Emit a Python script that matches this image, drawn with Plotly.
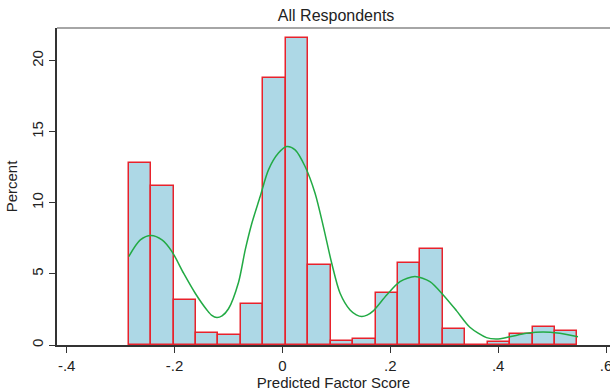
import plotly.graph_objects as go

# Histogram bins (centers) and percentages
bin_centers = [-0.2642, -0.2226, -0.1810, -0.1394, -0.0978, -0.0562, -0.0146, 0.0270,
               0.0686, 0.1102, 0.1518, 0.1934, 0.2350, 0.2766, 0.3182, 0.3598,
               0.4014, 0.4430, 0.4846, 0.5262]
bin_width = 0.0416
percent = [12.8, 11.2, 3.2, 0.87, 0.70, 2.87, 18.8, 21.6,
           5.63, 0.30, 0.45, 3.64, 5.75, 6.74, 1.13, 0.0,
           0.20, 0.75, 1.25, 0.99]

# Kernel density curve (in percent units)
kde_x = [-0.285, -0.2635, -0.2437, -0.2233, -0.2048, -0.1833, -0.1617, -0.140,
         -0.131, -0.1215, -0.112, -0.100, -0.0815, -0.069, -0.0567, -0.0413,
         -0.0259, -0.0074, 0.008, 0.0235, 0.042, 0.0605, 0.0759, 0.0914, 0.1069,
         0.1254, 0.137, 0.147, 0.157, 0.1685, 0.1933, 0.218, 0.2457, 0.2735,
         0.2981, 0.323, 0.3476, 0.3784, 0.397, 0.4216, 0.4525, 0.4833, 0.5142,
         0.548]
kde_y = [6.22, 7.39, 7.70, 7.39, 6.57, 5.05, 3.64, 2.46,
         2.08, 1.93, 2.05, 2.55, 4.40, 6.69, 8.57, 10.44,
         12.32, 13.50, 13.96, 13.73, 12.56, 10.68, 8.33, 5.75, 3.64,
         2.46, 2.12, 2.00, 2.10, 2.40, 3.52, 4.46, 4.81, 4.46,
         3.52, 2.40, 1.25, 0.52, 0.42, 0.58, 0.82, 0.92, 0.82,
         0.58]

x_ticks = [-0.4, -0.2, 0, 0.2, 0.4, 0.6]
x_ticklabels = ["-.4", "-.2", "0", ".2", ".4", ".6"]
y_ticks = [0, 5, 10, 15, 20]

FONT = "Liberation Sans, Arial, sans-serif"
AXIS_COLOR = "#333333"

fig = go.Figure()
fig.add_trace(go.Bar(
    x=bin_centers, y=percent, width=[bin_width] * len(bin_centers),
    marker=dict(color="#ADD8E6", line=dict(color="#E8222C", width=1.5)),
    hoverinfo="x+y",
))
fig.add_trace(go.Scatter(
    x=kde_x, y=kde_y, mode="lines",
    line=dict(color="#22AA44", width=1.5, shape="spline", smoothing=0.8),
))

fig.update_layout(
    width=610, height=392,
    margin=dict(l=57, r=0, t=28, b=47),
    paper_bgcolor="white", plot_bgcolor="white",
    showlegend=False, bargap=0,
    font=dict(family=FONT, size=15, color="#222222"),
    title=dict(text="All Respondents", x=0.551, xanchor="center",
               y=1 - 15 / 392, yanchor="middle",
               font=dict(family=FONT, size=16, color="#222222")),
)
fig.update_xaxes(
    range=[-0.418, 0.6074], tickvals=x_ticks, ticktext=x_ticklabels,
    automargin=False, ticklabeloverflow="allow",
    showgrid=False, zeroline=False, showline=True, linecolor=AXIS_COLOR, linewidth=1.5,
    ticks="outside", ticklen=6, tickcolor=AXIS_COLOR, tickwidth=1.2,
    tickfont=dict(size=15),
    title=dict(text="Predicted Factor Score", font=dict(size=15), standoff=0),
)
fig.update_yaxes(
    range=[0, 22.3], tickvals=y_ticks, tickangle=-90,
    automargin=False,
    showgrid=False, zeroline=False, showline=True, linecolor=AXIS_COLOR, linewidth=1.5,
    ticks="outside", ticklen=6, tickcolor=AXIS_COLOR, tickwidth=1.2,
    tickfont=dict(size=15),
    title=dict(text="Percent", font=dict(size=15), standoff=8),
)
# top frame line
fig.add_shape(type="line", xref="paper", yref="paper", x0=0, x1=1, y0=1, y1=1,
              line=dict(color="#888888", width=1.5))

fig.write_html("out.html", config={"displayModeBar": False},
               post_script="document.body.style.margin='0px';")
